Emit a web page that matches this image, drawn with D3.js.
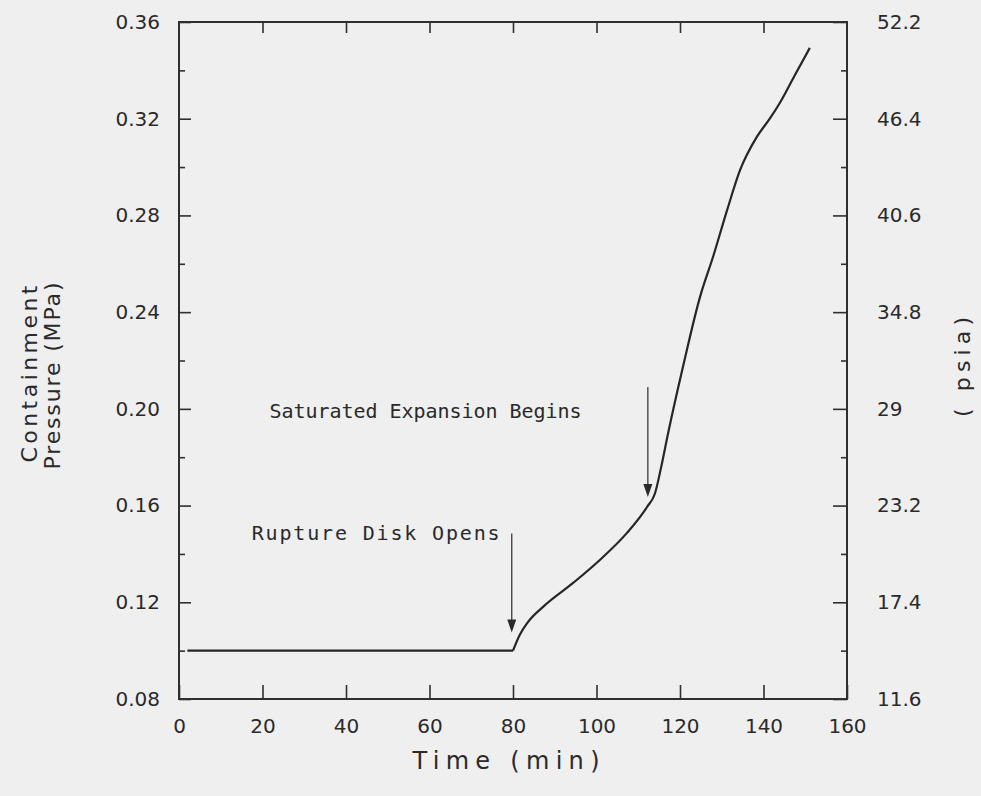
<!DOCTYPE html>
<html>
<head>
<meta charset="utf-8">
<script src="https://cdn.jsdelivr.net/npm/d3@7"></script>
<style>
  body { margin: 0; background: #efefef; }
  svg { display: block; }
  text { fill: #2a2a2a; }
</style>
</head>
<body>
<div id="vis"></div>
<script>
// containment pressure curve, time (min) vs pressure (MPa)
const timeMin = [2, 20, 40, 60, 80, 81.6, 83.4, 87.2, 94.4, 100.8, 107.3, 112.1, 114.0, 115.5, 117.1, 120.7, 124.8, 127.9, 131.3, 134.4, 138.4, 141.5, 143.9, 147.5, 151.1];
const pressureMPa = [0.100, 0.100, 0.100, 0.100, 0.100, 0.1065, 0.1114, 0.1181, 0.128, 0.1375, 0.1487, 0.1594, 0.1650, 0.1760, 0.1895, 0.2173, 0.2463, 0.2628, 0.2823, 0.2988, 0.3125, 0.3200, 0.3265, 0.3380, 0.3493];

const xTicks = [0, 20, 40, 60, 80, 100, 120, 140, 160];
const yTicks = [0.08, 0.12, 0.16, 0.20, 0.24, 0.28, 0.32, 0.36];
const yTickLabels = ['0.08', '0.12', '0.16', '0.20', '0.24', '0.28', '0.32', '0.36'];
const psiaLabels = ['11.6', '17.4', '23.2', '29', '34.8', '40.6', '46.4', '52.2'];

// annotations: label, arrow time, arrow top/tip pressure, label anchor
const noteLabels = ['Rupture Disk Opens', 'Saturated Expansion Begins'];
const noteTimes = [79.7, 112.3];
const noteTop = [0.1485, 0.2090];
const noteTip = [0.1075, 0.1635];
const labelTime = [17.4, 21.7];
const labelPress = [0.1458, 0.1962];

const width = 981, height = 796;
const margin = { left: 179, right: 134, top: 22, bottom: 97 };

const svg = d3.select('#vis').append('svg')
  .attr('width', width)
  .attr('height', height);

const x = d3.scaleLinear().domain([0, 160]).range([margin.left, width - margin.right]);
const y = d3.scaleLinear().domain([0.08, 0.36]).range([height - margin.bottom, margin.top]);

const ink = '#2f2f2f';
const tickFont = '"DejaVu Sans", Verdana, sans-serif';
const noteFont = '"DejaVu Sans Mono", monospace';

// frame
svg.append('rect')
  .attr('x', x(0)).attr('y', y(0.36))
  .attr('width', x(160) - x(0)).attr('height', y(0.08) - y(0.36))
  .attr('fill', 'none').attr('stroke', ink).attr('stroke-width', 2);

// bottom axis, ticks inward
svg.append('g')
  .attr('transform', `translate(0,${y(0.08)})`)
  .call(d3.axisBottom(x).tickValues(xTicks).tickSizeInner(-14).tickSizeOuter(0).tickPadding(20).tickFormat(d3.format('d')));
// top axis ticks only
svg.append('g')
  .attr('transform', `translate(0,${y(0.36)})`)
  .call(d3.axisTop(x).tickValues(xTicks.slice(1, -1)).tickSizeInner(-11).tickSizeOuter(0).tickFormat(''));

// left axis
const yMinor = d3.range(0.10, 0.36, 0.04);
svg.append('g')
  .attr('transform', `translate(${x(0)},0)`)
  .call(d3.axisLeft(y).tickValues(yTicks).tickSizeInner(-12).tickSizeOuter(0).tickPadding(19)
    .tickFormat((d, i) => yTickLabels[i]));
svg.append('g')
  .attr('transform', `translate(${x(0)},0)`)
  .call(d3.axisLeft(y).tickValues(yMinor).tickSizeInner(-6).tickSizeOuter(0).tickFormat(''));

// right axis (psia)
svg.append('g')
  .attr('transform', `translate(${x(160)},0)`)
  .call(d3.axisRight(y).tickValues(yTicks).tickSizeInner(-14).tickSizeOuter(0).tickPadding(30)
    .tickFormat((d, i) => psiaLabels[i]));
svg.append('g')
  .attr('transform', `translate(${x(160)},0)`)
  .call(d3.axisRight(y).tickValues(yMinor).tickSizeInner(-6).tickSizeOuter(0).tickFormat(''));

svg.selectAll('.domain').remove();
svg.selectAll('.tick line').attr('stroke', ink).attr('stroke-width', 1.6);
svg.selectAll('.tick text')
  .style('font-family', tickFont)
  .style('font-size', '20px')
  .attr('fill', '#2a2a2a');

// curve: flat part straight, rise smoothed
const pts = timeMin.map((t, i) => [t, pressureMPa[i]]);
const line = d3.line()
  .x(d => x(d[0]))
  .y(d => y(d[1]))
  .curve(d3.curveMonotoneX);

svg.append('path')
  .datum(pts.filter(d => d[0] <= 80))
  .attr('d', line)
  .attr('fill', 'none')
  .attr('stroke', '#262626')
  .attr('stroke-width', 2.2);
svg.append('path')
  .datum(pts.filter(d => d[0] >= 80))
  .attr('d', line)
  .attr('fill', 'none')
  .attr('stroke', '#262626')
  .attr('stroke-width', 2.2)
  .attr('stroke-linejoin', 'round');

// arrows + labels
const labelWidths = [248, 312];

noteLabels.forEach((lab, i) => {
  const ax = x(noteTimes[i]);
  const tipY = y(noteTip[i]);
  svg.append('line')
    .attr('x1', ax).attr('x2', ax)
    .attr('y1', y(noteTop[i])).attr('y2', tipY - 12)
    .attr('stroke', '#3a3a3a').attr('stroke-width', 1.3);
  svg.append('path')
    .attr('d', `M${ax - 4.5},${tipY - 13} L${ax + 4.5},${tipY - 13} L${ax},${tipY} Z`)
    .attr('fill', '#2a2a2a');
  svg.append('text')
    .attr('x', x(labelTime[i]))
    .attr('y', y(labelPress[i]))
    .attr('textLength', labelWidths[i])
    .attr('lengthAdjust', 'spacing')
    .style('font-family', noteFont)
    .style('font-size', '20px')
    .text(lab);
});

// axis titles
svg.append('text')
  .attr('x', 506).attr('y', 769)
  .attr('text-anchor', 'middle')
  .attr('textLength', 187).attr('lengthAdjust', 'spacing')
  .style('font-family', tickFont)
  .style('font-size', '24px')
  .text('Time (min)');

svg.append('text')
  .attr('transform', 'translate(37,374) rotate(-90)')
  .attr('text-anchor', 'middle')
  .attr('textLength', 177).attr('lengthAdjust', 'spacing')
  .style('font-family', tickFont)
  .style('font-size', '22px')
  .text('Containment');
svg.append('text')
  .attr('transform', 'translate(60,376) rotate(-90)')
  .attr('text-anchor', 'middle')
  .attr('textLength', 187).attr('lengthAdjust', 'spacing')
  .style('font-family', tickFont)
  .style('font-size', '22px')
  .text('Pressure (MPa)');

svg.append('text')
  .attr('transform', 'translate(970,367) rotate(-90)')
  .attr('text-anchor', 'middle')
  .attr('textLength', 100).attr('lengthAdjust', 'spacing')
  .style('font-family', tickFont)
  .style('font-size', '22px')
  .text('( psia)');
</script>
</body>
</html>
